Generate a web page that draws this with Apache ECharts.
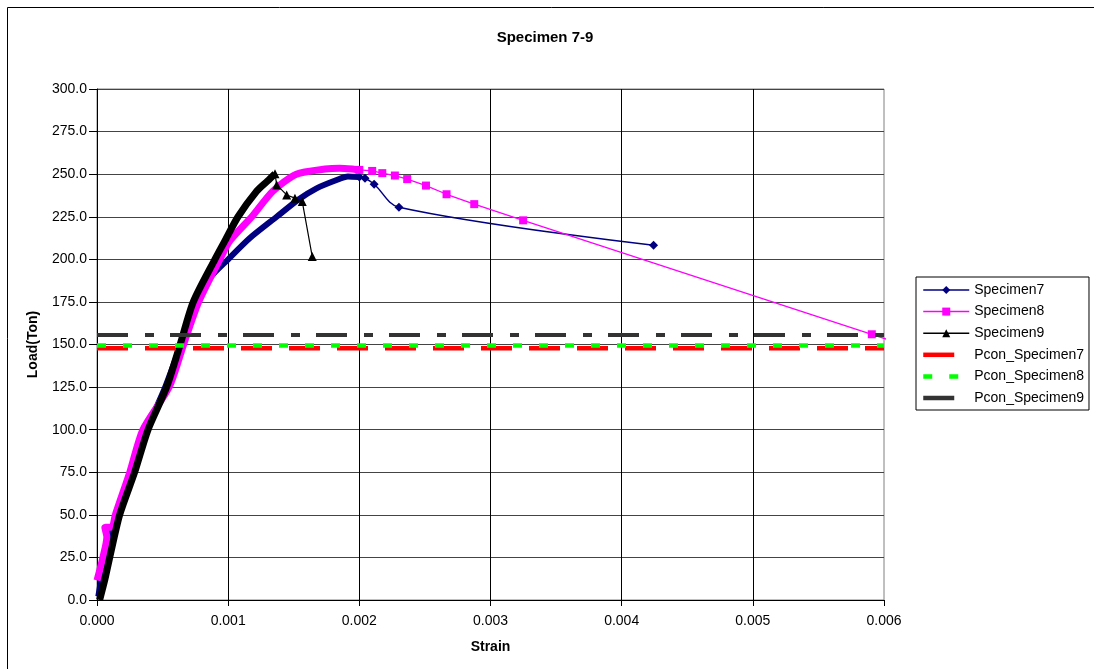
<!DOCTYPE html>
<html>
<head>
<meta charset="utf-8">
<script src="https://cdn.jsdelivr.net/npm/echarts@6/dist/echarts.min.js"></script>
<style>
  html, body { margin: 0; padding: 0; background: #fff; }
  #chart { width: 1094px; height: 669px; }
</style>
</head>
<body>
<div id="chart"></div>
<script>
// strain / load(ton)
var spec7Dense = [
  [0.000010, 2], [0.000050, 20], [0.000100, 38], [0.000160, 52], [0.000280, 76],
  [0.000380, 100], [0.000520, 125], [0.000640, 150], [0.000760, 175], [0.000860, 189],
  [0.001000, 200], [0.001166, 212.5], [0.001370, 225], [0.001534, 235], [0.001674, 241.7],
  [0.001827, 246.6], [0.001913, 248.6], [0.002000, 248.3]
];
var spec7Tail = [
  [0.002000, 248.3], [0.002043, 247.6], [0.002113, 244.1], [0.002302, 230.6], [0.004243, 208.3]
];
var spec8Dense = [
  [0.000000, 11.5], [0.000045, 25], [0.000075, 37], [0.000060, 42.5], [0.000115, 43],
  [0.000140, 50], [0.000250, 75], [0.000350, 100], [0.000550, 125], [0.000660, 150],
  [0.000775, 175], [0.000937, 200], [0.001014, 211], [0.001180, 225], [0.001340, 240],
  [0.001520, 250], [0.001740, 253], [0.001850, 253.5], [0.001970, 252.8], [0.002000, 252.5]
];
var spec8Tail = [
  [0.002000, 252.5], [0.002098, 251.9], [0.002175, 250.6], [0.002271, 249.2], [0.002365, 247.1],
  [0.002508, 243.3], [0.002665, 238.2], [0.002876, 232.4], [0.003249, 222.9], [0.005907, 156.0],
  [0.006500, 141]
];
var spec9Dense = [
  [0.000020, 0], [0.000060, 12], [0.000097, 25], [0.000173, 50], [0.000287, 75],
  [0.000389, 100], [0.000531, 125], [0.000634, 150], [0.000734, 175], [0.000899, 200],
  [0.000976, 211], [0.001075, 225], [0.001217, 240], [0.001300, 246], [0.001357, 250.3]
];
var spec9Tail = [
  [0.001357, 250.3], [0.001370, 243.7], [0.001446, 237.8], [0.001509, 235.9], [0.001565, 233.9],
  [0.001641, 201.6]
];
var pconX = [0, 0.006];
var pcon7 = 147.8;
var pcon8 = 149.4;
var pcon9 = 155.6;

var font = "'Liberation Sans', Arial, sans-serif";
var chart = echarts.init(document.getElementById("chart"));

function band(name, data, color, width) {
  return {
    name: name,
    type: "line",
    data: data,
    symbol: "none",
    smooth: 0.25,
    lineStyle: { color: color, width: width, join: "round" },
    silent: true,
    z: 2
  };
}

function tail(name, data, color, symbol, size, width, smooth) {
  return {
    name: name,
    type: "line",
    data: data,
    symbol: symbol,
    symbolSize: size,
    showAllSymbol: true,
    smooth: smooth,
    itemStyle: { color: color },
    lineStyle: { color: color, width: width },
    z: 3
  };
}

function pcon(name, value, color, dash, width) {
  return {
    name: name,
    type: "line",
    data: pconX.map(function (x) { return [x, value]; }),
    symbol: "none",
    itemStyle: { color: color },
    lineStyle: { color: color, width: width, type: dash, cap: "butt" },
    z: 4
  };
}

function pconLegend(name, dash) {
  return {
    name: name,
    lineStyle: { width: 4.5, type: dash, cap: "butt" },
    itemStyle: { opacity: 0, borderWidth: 0 }
  };
}

var option = {
  animation: false,
  textStyle: { fontFamily: font },
  graphic: [
    {
      type: "rect",
      shape: { x: 7.5, y: 7.5, width: 1200, height: 800 },
      style: { fill: null, stroke: "#000", lineWidth: 1 },
      silent: true
    },
    {
      type: "text",
      x: 545,
      y: 38,
      style: {
        text: "Specimen 7-9",
        font: "bold 15px " + font,
        fill: "#000",
        align: "center",
        verticalAlign: "middle"
      }
    }
  ],
  grid: {
    left: 97,
    right: 210,
    top: 89,
    bottom: 69,
    show: true,
    borderColor: "#808080",
    borderWidth: 1
  },
  legend: {
    orient: "vertical",
    left: 916,
    top: 277,
    padding: [6, 5, 5, 5],
    borderColor: "#000",
    borderWidth: 1,
    itemWidth: 46,
    itemHeight: 10,
    itemGap: 7.6,
    textStyle: { fontSize: 14, color: "#000", fontFamily: font },
    data: [
      { name: "Specimen7", lineStyle: { width: 1.5 } },
      { name: "Specimen8", lineStyle: { width: 1.5 } },
      { name: "Specimen9", lineStyle: { width: 1.5 } },
      pconLegend("Pcon_Specimen7", [31, 17]),
      pconLegend("Pcon_Specimen8", [9, 17]),
      pconLegend("Pcon_Specimen9", [31, 17])
    ]
  },
  xAxis: {
    type: "value",
    min: 0,
    max: 0.006,
    interval: 0.001,
    name: "Strain",
    nameLocation: "middle",
    nameGap: 40,
    nameTextStyle: { fontWeight: "bold", fontSize: 14, color: "#000" },
    axisLine: { show: true, lineStyle: { color: "#000", width: 1 } },
    axisTick: { show: true, length: 6, lineStyle: { color: "#000" } },
    axisLabel: {
      fontSize: 14,
      color: "#000",
      margin: 14,
      formatter: function (v) { return v.toFixed(3); }
    },
    splitLine: { show: true, showMaxLine: false, lineStyle: { color: "#000", width: 1 } }
  },
  yAxis: {
    type: "value",
    min: 0,
    max: 300,
    interval: 25,
    name: "Load(Ton)",
    nameLocation: "middle",
    nameGap: 57,
    nameTextStyle: { fontWeight: "bold", fontSize: 14, color: "#000" },
    axisLine: { show: true, lineStyle: { color: "#000", width: 1 } },
    axisTick: { show: true, length: 8, lineStyle: { color: "#000" } },
    axisLabel: {
      fontSize: 14,
      color: "#000",
      margin: 10,
      formatter: function (v) { return v.toFixed(1); }
    },
    splitLine: { show: true, lineStyle: { color: "#444", width: 1 } }
  },
  series: [
    band("Specimen7 band", spec7Dense, "#000080", 6),
    band("Specimen8 band", spec8Dense, "#FF00FF", 7),
    band("Specimen9 band", spec9Dense, "#000000", 7),
    tail("Specimen7", spec7Tail, "#000080", "diamond", 9, 1.5, 0.35),
    tail("Specimen8", spec8Tail, "#FF00FF", "rect", 8, 1.3, false),
    tail("Specimen9", spec9Tail, "#000000", "triangle", 9, 1.2, false),
    pcon("Pcon_Specimen7", pcon7, "#FF0000", [31, 17], 4.5),
    pcon("Pcon_Specimen8", pcon8, "#00FF00", [9, 17], 4.5),
    pcon("Pcon_Specimen9", pcon9, "#333333", [31, 17, 9, 16], 4)
  ]
};

chart.setOption(option);
</script>
</body>
</html>
